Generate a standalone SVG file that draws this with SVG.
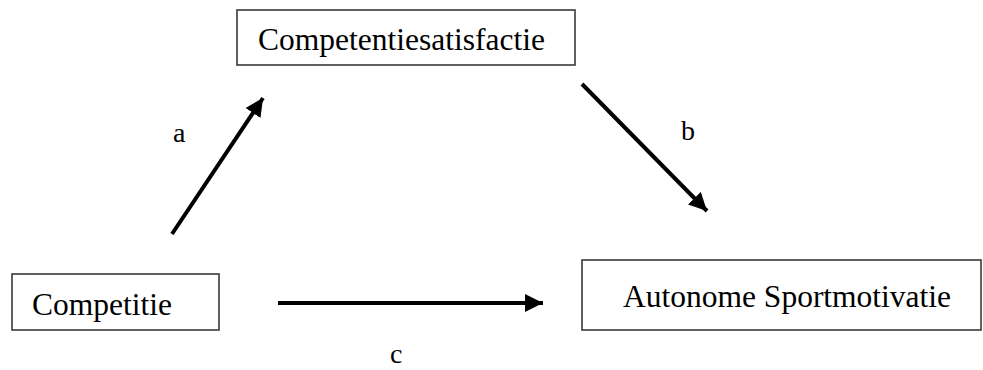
<svg xmlns="http://www.w3.org/2000/svg" width="983" height="370" viewBox="0 0 983 370">
<style>
.box{fill:#fff;stroke:#3a3a3a;stroke-width:1.6}
.t{font-family:"Liberation Serif","Times New Roman",serif;font-size:31.5px;fill:#000}
.lbl{font-family:"Liberation Serif","Times New Roman",serif;font-size:28px;fill:#000}
.conn{stroke:#000;stroke-width:4;fill:none;marker-end:url(#ah)}
</style>
<defs>
<marker id="ah" markerUnits="userSpaceOnUse" markerWidth="20" markerHeight="18" refX="18" refY="9" orient="auto">
<path d="M0,0 L18,9 L0,18 Z" fill="#000"/>
</marker>
</defs>
<rect width="983" height="370" fill="#fff"/>
<g id="node-competentiesatisfactie">
<rect class="box" x="237" y="10" width="338" height="55"/>
<text class="t" x="258" y="50">Competentiesatisfactie</text>
</g>
<g id="node-competitie">
<rect class="box" x="12" y="274" width="207" height="56"/>
<text class="t" x="32" y="315">Competitie</text>
</g>
<g id="node-autonome">
<rect class="box" x="582" y="260" width="399" height="70"/>
<text class="t" x="623" y="307">Autonome Sportmotivatie</text>
</g>
<g id="connectors">
<line class="conn" x1="172" y1="234" x2="263" y2="98"/>
<line class="conn" x1="582" y1="84" x2="707" y2="211"/>
<line class="conn" x1="278" y1="303" x2="543" y2="303"/>
</g>
<g id="labels">
<text class="lbl" x="173" y="142">a</text>
<text class="lbl" x="681" y="140">b</text>
<text class="lbl" x="390" y="363">c</text>
</g>
</svg>
